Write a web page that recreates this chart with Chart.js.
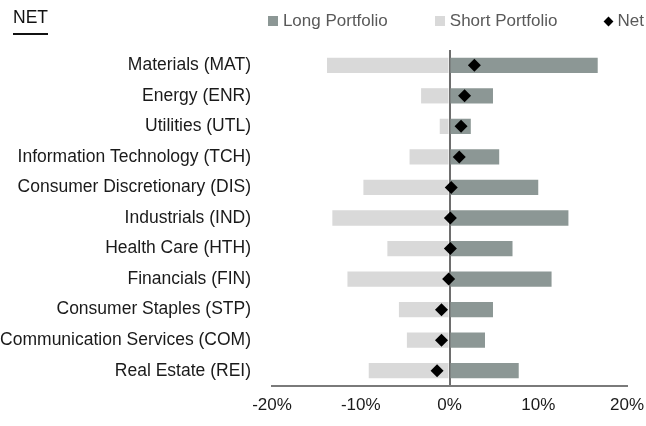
<!DOCTYPE html>
<html>
<head>
<meta charset="utf-8">
<script src="https://cdn.jsdelivr.net/npm/chart.js@4.4.1/dist/chart.umd.min.js"></script>
<style>
  html, body { margin: 0; padding: 0; background: #fff; }
  #wrap { position: relative; width: 646px; height: 426px; font-family: "Liberation Sans", Arial, sans-serif; }
  #title { position: absolute; left: 13px; top: 7px; font-size: 17.5px; line-height: 20px; color: #111; border-bottom: 2px solid #111; padding-bottom: 6px; }
  #legend { position: absolute; right: 2px; top: 11px; display: flex; font-size: 17px; line-height: 20px; color: #595959; }
  #legend .item { display: flex; align-items: center; margin-left: 47px; }
  #legend .item:first-child { margin-left: 0; }
  #legend .sw { width: 10px; height: 10px; margin-right: 5px; }
  #legend .dm { width: 7px; height: 7px; transform: rotate(45deg); margin-right: 6px; }
  canvas { position: absolute; left: 0; top: 0; }
</style>
</head>
<body>
<div id="wrap">
  <canvas id="chart" width="646" height="426"></canvas>
  <div id="title">NET</div>
  <div id="legend"></div>
</div>
<script>
const categories = [
  "Materials (MAT)",
  "Energy (ENR)",
  "Utilities (UTL)",
  "Information Technology (TCH)",
  "Consumer Discretionary (DIS)",
  "Industrials (IND)",
  "Health Care (HTH)",
  "Financials (FIN)",
  "Consumer Staples (STP)",
  "Communication Services (COM)",
  "Real Estate (REI)"
];
const longValues = [16.7, 4.9, 2.4, 5.6, 10.0, 13.4, 7.1, 11.5, 4.9, 4.0, 7.8];
const shortValues = [-13.8, -3.2, -1.1, -4.5, -9.7, -13.2, -7.0, -11.5, -5.7, -4.8, -9.1];
const netValues = [2.8, 1.7, 1.3, 1.1, 0.2, 0.1, 0.1, -0.1, -0.9, -0.9, -1.4];
const xTicks = [-20, -10, 0, 10, 20];

const longColor = "#8c9795";
const shortColor = "#d9d9d9";
const netColor = "#000000";

Chart.defaults.font.family = "'Liberation Sans', Arial, sans-serif";

const chart = new Chart(document.getElementById("chart"), {
  type: "bar",
  data: {
    labels: categories,
    datasets: [
      {
        type: "line",
        label: "Net",
        data: netValues,
        showLine: false,
        pointStyle: "rectRot",
        pointRadius: 6.5,
        pointHoverRadius: 6.5,
        pointBorderWidth: 0,
        backgroundColor: netColor,
        borderColor: netColor,
        stack: "net",
        order: 0
      },
      {
        label: "Long Portfolio",
        data: longValues,
        backgroundColor: longColor,
        stack: "pf",
        order: 1
      },
      {
        label: "Short Portfolio",
        data: shortValues,
        backgroundColor: shortColor,
        stack: "pf",
        order: 2
      }
    ]
  },
  options: {
    indexAxis: "y",
    responsive: false,
    animation: false,
    barPercentage: 1,
    categoryPercentage: 0.5,
    layout: { padding: { top: 50, right: 19, bottom: 0, left: 0 } },
    plugins: {
      legend: { display: false },
      tooltip: { enabled: false }
    },
    scales: {
      x: {
        stacked: true,
        min: -20,
        max: 20,
        z: 1,
        afterBuildTicks: (s) => { s.ticks = xTicks.map((v) => ({ value: v })); },
        afterFit: (s) => {
          s.height = 40;
          s.paddingLeft = 0;
          s.paddingRight = 0;
        },
        ticks: {
          callback: (v) => v + "%",
          color: "#1a1a1a",
          font: { size: 17 },
          padding: 9,
          maxRotation: 0
        },
        grid: {
          drawTicks: false,
          lineWidth: 2,
          color: (ctx) => (ctx.tick && ctx.tick.value === 0 ? "#6e6e6e" : "rgba(0,0,0,0)")
        },
        border: { display: true, color: "#7a7a7a", width: 2 }
      },
      y: {
        stacked: true,
        afterFit: (s) => { s.width = 272; },
        ticks: {
          color: "#1a1a1a",
          font: { size: 17.5 },
          padding: 21,
          autoSkip: false
        },
        grid: { display: false, drawTicks: false },
        border: { display: false }
      }
    }
  }
});

// legend built from the chart's datasets
const legendOrder = [1, 2, 0];
const legendEl = document.getElementById("legend");
legendOrder.forEach((i) => {
  const ds = chart.data.datasets[i];
  const item = document.createElement("div");
  item.className = "item";
  const mark = document.createElement("span");
  mark.className = ds.type === "line" ? "dm" : "sw";
  mark.style.background = ds.backgroundColor;
  const txt = document.createElement("span");
  txt.textContent = ds.label;
  item.appendChild(mark);
  item.appendChild(txt);
  legendEl.appendChild(item);
});
</script>
</body>
</html>
